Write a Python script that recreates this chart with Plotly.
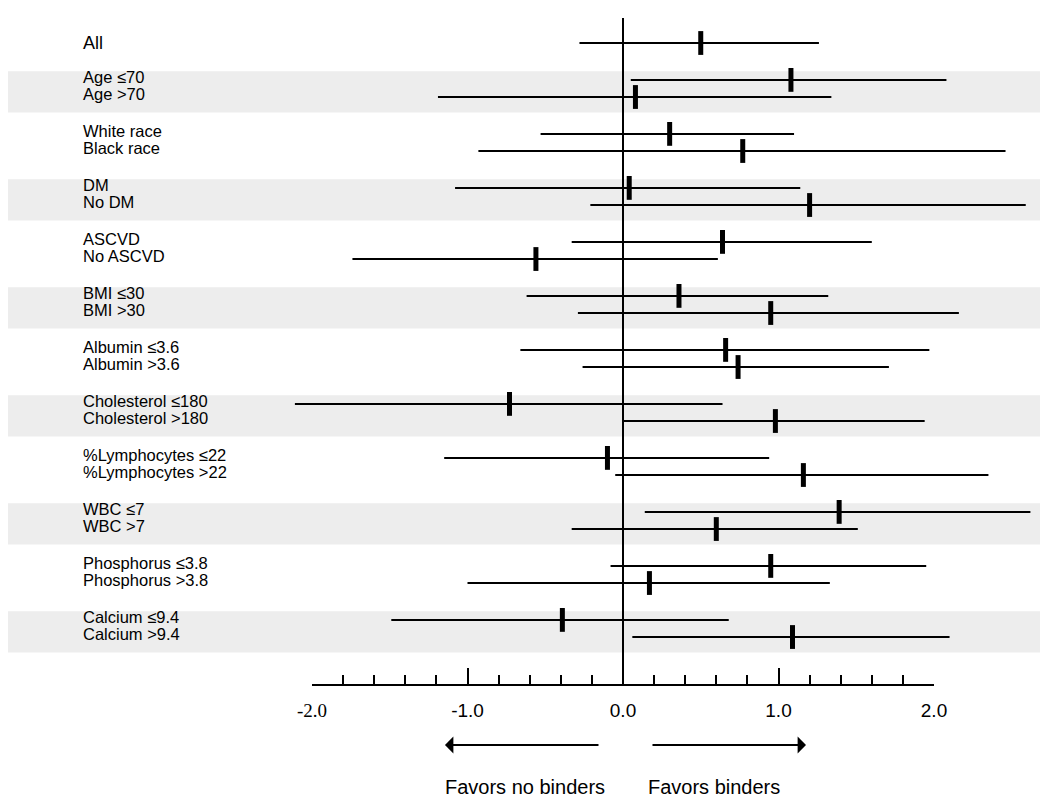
import plotly.graph_objects as go

# ---------------- data ----------------
labels = ["All", "Age ≤70", "Age >70", "White race", "Black race", "DM", "No DM",
          "ASCVD", "No ASCVD", "BMI ≤30", "BMI >30", "Albumin ≤3.6", "Albumin >3.6",
          "Cholesterol ≤180", "Cholesterol >180", "%Lymphocytes ≤22", "%Lymphocytes >22",
          "WBC ≤7", "WBC >7", "Phosphorus ≤3.8", "Phosphorus >3.8",
          "Calcium ≤9.4", "Calcium >9.4"]
group_id = [0, 1, 1, 2, 2, 3, 3, 4, 4, 5, 5, 6, 6, 7, 7, 8, 8, 9, 9, 10, 10, 11, 11]
estimate = [0.50, 1.08, 0.08, 0.30, 0.77, 0.04, 1.20, 0.64, -0.56, 0.36, 0.95, 0.66, 0.74,
            -0.73, 0.98, -0.10, 1.16, 1.39, 0.60, 0.95, 0.17, -0.39, 1.09]
lower = [-0.28, 0.05, -1.19, -0.53, -0.93, -1.08, -0.21, -0.33, -1.74, -0.62, -0.29, -0.66, -0.26,
         -2.11, 0.00, -1.15, -0.05, 0.14, -0.33, -0.08, -1.00, -1.49, 0.06]
upper = [1.26, 2.08, 1.34, 1.10, 2.46, 1.14, 2.59, 1.60, 0.61, 1.32, 2.16, 1.97, 1.71,
         0.64, 1.94, 0.94, 2.35, 2.62, 1.51, 1.95, 1.33, 0.68, 2.10]
tick_vals = [-2, -1, 0, 1, 2]
tick_text = ['<span style="font-family:serif">-2.0</span>',
             "-1.0", "0.0", "1.0", "2.0"]
left_label = "Favors no binders"
right_label = "Favors binders"

# ---------------- layout helpers ----------------
GROUP_GAP = 1.158            # extra space between groups, in row units
ypos = [i + GROUP_GAP * g for i, g in enumerate(group_id)]
err_plus = [u - e for u, e in zip(upper, estimate)]
err_minus = [e - l for e, l in zip(estimate, lower)]

W, H = 1050, 805
OFF = 8                      # page offset of the figure (body margin)
PA_L, PA_R, PA_T, PA_B = 8, 1040, 18, 684   # plot area in page pixels
ML, MR, MT, MB = PA_L - OFF, W - PA_R + OFF, PA_T - OFF, H - PA_B + OFF
PX_PER_UNIT = 155.5
ZERO_PX = 623
x_lo = (PA_L - ZERO_PX) / PX_PER_UNIT
x_hi = (PA_R - ZERO_PX) / PX_PER_UNIT
ROW_PX = 17.1
FIRST_ROW_PX = 43
y_top = (PA_T - FIRST_ROW_PX) / ROW_PX
y_bot = (PA_B - FIRST_ROW_PX) / ROW_PX
plot_w = PA_R - PA_L
plot_h = PA_B - PA_T
dom2 = [(ZERO_PX - 2 * PX_PER_UNIT - PA_L) / plot_w, (ZERO_PX + 2 * PX_PER_UNIT - PA_L) / plot_w]

FONT = "Liberation Sans, Arial, Helvetica, sans-serif"

fig = go.Figure()

fig.add_trace(go.Scatter(
    x=estimate, y=ypos, mode="markers",
    marker=dict(symbol="line-ns", size=17, color="black", line=dict(width=5, color="black")),
    error_x=dict(type="data", symmetric=False, array=err_plus, arrayminus=err_minus,
                 width=0, thickness=2, color="black"),
    showlegend=False, hoverinfo="skip",
))
# trace on the labelled scale axis
fig.add_trace(go.Scatter(x=[None], y=[None], xaxis="x2", yaxis="y", mode="markers",
                         showlegend=False, hoverinfo="skip"))

# shaded bands for alternating groups
shapes = []
for g in sorted(set(group_id)):
    if g % 2 == 1:
        rows = [ypos[i] for i in range(len(ypos)) if group_id[i] == g]
        c = sum(rows) / len(rows) + 0.2
        shapes.append(dict(type="rect", xref="paper", yref="y", x0=0, x1=1,
                           y0=c - 1.2, y1=c + 1.2, fillcolor="#ededed",
                           line=dict(width=0), layer="below"))

annotations = []
for lab, y in zip(labels, ypos):
    annotations.append(dict(xref="paper", yref="y", x=(81 - PA_L) / plot_w, y=y,
                            text=lab, showarrow=False, xanchor="left", yanchor="middle",
                            yshift=3 if lab != "All" else 0,
                            font=dict(family=FONT, size=18 if lab == "All" else 16.5, color="black")))

ARROW_Y = (PA_B - 745) / plot_h
TEXT_Y = (PA_B - 787) / plot_h
annotations += [
    dict(xref="x2", yref="paper", x=-1.145, y=ARROW_Y, axref="x2", ayref="pixel",
         ax=-0.148, ay=0, text="", showarrow=True, arrowhead=1, arrowsize=1.4,
         arrowwidth=2, arrowcolor="black", standoff=0),
    dict(xref="x2", yref="paper", x=1.177, y=ARROW_Y, axref="x2", ayref="pixel",
         ax=0.18, ay=0, text="", showarrow=True, arrowhead=1, arrowsize=1.4,
         arrowwidth=2, arrowcolor="black", standoff=0),
    dict(xref="x2", yref="paper", x=-1.158, y=TEXT_Y, text=left_label, showarrow=False,
         xanchor="left", yanchor="middle", font=dict(family=FONT, size=20, color="black")),
    dict(xref="x2", yref="paper", x=0.148, y=TEXT_Y, text=right_label, showarrow=False,
         xanchor="left", yanchor="middle", font=dict(family=FONT, size=20, color="black")),
]

fig.update_layout(
    width=W, height=H,
    margin=dict(l=ML, r=MR, t=MT, b=MB, autoexpand=False),
    paper_bgcolor="white", plot_bgcolor="rgba(0,0,0,0)",
    shapes=shapes, annotations=annotations,
    xaxis=dict(range=[x_lo, x_hi], domain=[0, 1], showgrid=False, showticklabels=False,
               ticks="", showline=False, zeroline=True, zerolinecolor="black",
               zerolinewidth=2, fixedrange=True, automargin=False),
    xaxis2=dict(domain=dom2, anchor="y", range=[-2, 2], showgrid=False, zeroline=False,
                showline=True, linecolor="black", linewidth=2,
                tickmode="array", tickvals=tick_vals, ticktext=tick_text,
                ticks="inside", ticklen=16, tickwidth=2, tickcolor="black",
                ticklabelstandoff=8, automargin=False,
                tickfont=dict(family=FONT, size=19, color="black"),
                minor=dict(tickmode="linear", tick0=0, dtick=0.2, ticks="inside",
                           ticklen=9, tickwidth=2, tickcolor="black", showgrid=False),
                fixedrange=True),
    yaxis=dict(range=[y_bot, y_top], showgrid=False, zeroline=False, showticklabels=False,
               ticks="", showline=False, fixedrange=True, automargin=False),
)

fig.write_html("out.html")
